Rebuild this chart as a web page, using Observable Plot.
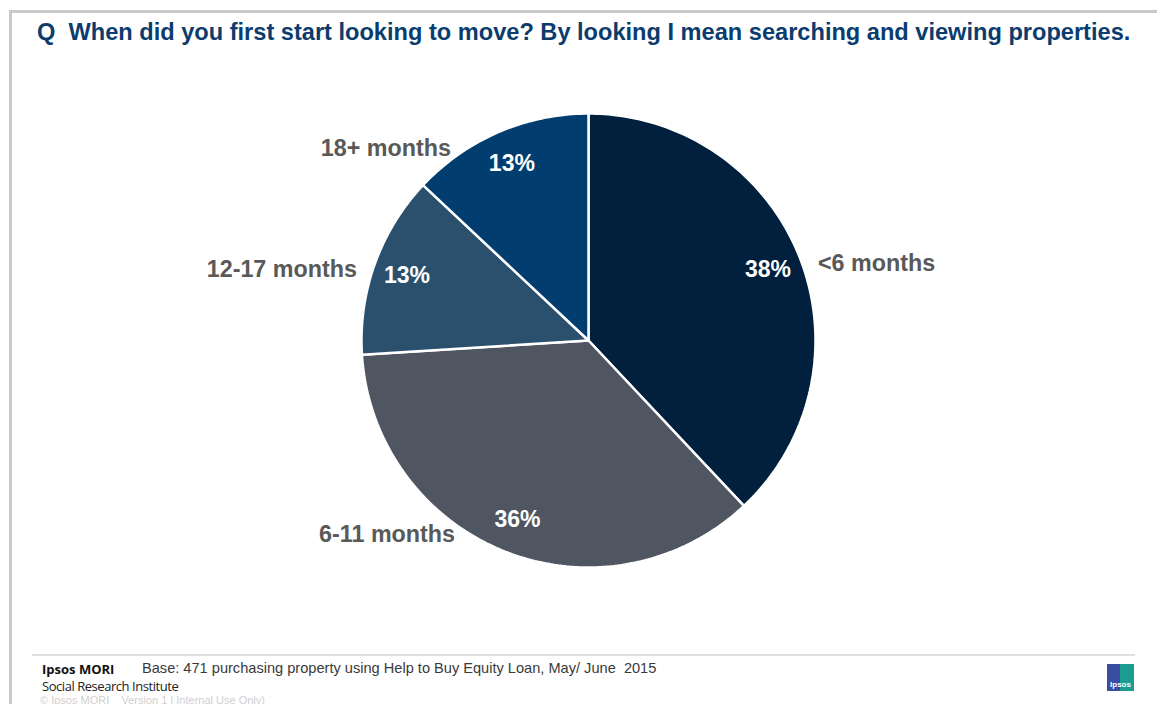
<!DOCTYPE html>
<html>
<head>
<meta charset="utf-8">
<script src="https://cdn.jsdelivr.net/npm/d3@7"></script>
<script src="https://cdn.jsdelivr.net/npm/@observablehq/plot@0.6"></script>
<style>
  html, body { margin: 0; padding: 0; background: #fff; }
  #page { position: relative; width: 1157px; height: 704px; overflow: hidden; background: #fff; font-family: "Liberation Sans", Arial, sans-serif; }
  .abs { position: absolute; white-space: nowrap; }
  #frameTop { left: 9px; top: 10px; width: 1148px; height: 3px; background: #c9c9c9; }
  #frameLeft { left: 9px; top: 10px; width: 3px; height: 694px; background: #c9c9c9; }
  #title { left: 37px; top: 20px; font-size: 23.6px; line-height: 24px; font-weight: bold; color: #0b3c6e; }
  #chart { left: 0; top: 80px; }
  #footLine { left: 32px; top: 654px; width: 1103px; height: 2px; background: #dedede; }
  #brand { left: 42px; top: 661px; font-family: "Open Sans", "Noto Sans", sans-serif; font-weight: bold; font-size: 13px; line-height: 16px; color: #111; }
  #base { left: 142px; top: 660px; font-size: 14.6px; line-height: 17px; color: #3a3a3a; }
  #sri { left: 42px; top: 678px; font-family: "Open Sans", "Noto Sans", sans-serif; font-size: 13px; line-height: 16px; color: #222; letter-spacing: -0.45px; }
  #copy { left: 40px; top: 694px; font-size: 11px; line-height: 13px; color: #cfcfcf; }
  #logo { left: 1107px; top: 664px; width: 27px; height: 27px; background: linear-gradient(90deg, #3a4ea1 50%, #1c9c8f 50%); }
  #logo span { position: absolute; left: 0; width: 27px; bottom: 2px; text-align: center; color: #fff; font-size: 8px; font-weight: bold; line-height: 9px; }
</style>
</head>
<body>
<div id="page">
  <div class="abs" id="frameTop"></div>
  <div class="abs" id="frameLeft"></div>
  <div class="abs" id="title">Q&nbsp; When did you first start looking to move? By looking I mean searching and viewing properties.</div>
  <div class="abs" id="chart"></div>
  <div class="abs" id="footLine"></div>
  <div class="abs" id="brand">Ipsos MORI</div>
  <div class="abs" id="base">Base: 471 purchasing property using Help to Buy Equity Loan, May/ June&nbsp; 2015</div>
  <div class="abs" id="sri">Social Research Institute</div>
  <div class="abs" id="copy">© Ipsos MORI &nbsp;&nbsp; Version 1 | Internal Use Only)</div>
  <div class="abs" id="logo"><span>Ipsos</span></div>
</div>
<script>
// ---- data ----
const categories = ["<6 months", "6-11 months", "12-17 months", "18+ months"];
const percentages = [38, 36, 13, 13];
const percentLabels = ["38%", "36%", "13%", "13%"];

// ---- geometry derived from data (angles clockwise from 12 o'clock) ----
const total = d3.sum(percentages);
let acc = 0;
const slices = categories.map((c, i) => {
  const a0 = (acc / total) * 2 * Math.PI;
  acc += percentages[i];
  const a1 = (acc / total) * 2 * Math.PI;
  return {cat: c, a0, a1, mid: (a0 + a1) / 2, label: percentLabels[i]};
});

const polyPoints = [];
for (const s of slices) {
  polyPoints.push({cat: s.cat, x: 0, y: 0});
  const n = Math.max(2, Math.ceil((s.a1 - s.a0) / (Math.PI / 180)));
  for (let k = 0; k <= n; k++) {
    const a = s.a0 + (s.a1 - s.a0) * k / n;
    polyPoints.push({cat: s.cat, x: Math.sin(a), y: Math.cos(a)});
  }
  polyPoints.push({cat: s.cat, x: 0, y: 0});
}

const innerR = 0.85;
const innerLabels = slices.map(s => ({text: s.label, x: innerR * Math.sin(s.mid), y: innerR * Math.cos(s.mid)}));

const outerYR = 0.92, gap = 0.07;
const outerLabels = slices.map(s => {
  const y = outerYR * Math.cos(s.mid);
  const edge = Math.sqrt(Math.max(0, 1 - y * y));
  const right = Math.sin(s.mid) >= 0;
  return {text: s.cat, right, x: right ? edge + gap : -(edge + gap), y};
});

const font = "Liberation Sans, Arial, sans-serif";
const chart = Plot.plot({
  width: 1157,
  height: 540,
  margin: 0,
  x: {domain: [-1, 1], range: [361, 815], axis: null},
  y: {domain: [-1, 1], range: [487, 33], axis: null},
  color: {domain: categories, range: ["#00203e", "#4f5661", "#2a506e", "#023d6f"]},
  style: {background: "transparent", overflow: "visible"},
  marks: [
    Plot.line(polyPoints, {x: "x", y: "y", z: "cat", fill: "cat", stroke: "#ffffff", strokeWidth: 2.5, curve: "linear", strokeLinejoin: "miter"}),
    Plot.text(innerLabels, {x: "x", y: "y", text: "text", fill: "#ffffff", fontSize: 23, fontWeight: "bold", fontFamily: font}),
    Plot.text(outerLabels.filter(d => d.right), {x: "x", y: "y", text: "text", fill: "#595959", fontSize: 23.3, fontWeight: "bold", fontFamily: font, textAnchor: "start"}),
    Plot.text(outerLabels.filter(d => !d.right), {x: "x", y: "y", text: "text", fill: "#595959", fontSize: 23.3, fontWeight: "bold", fontFamily: font, textAnchor: "end"})
  ]
});
document.getElementById("chart").appendChild(chart);
</script>
</body>
</html>
